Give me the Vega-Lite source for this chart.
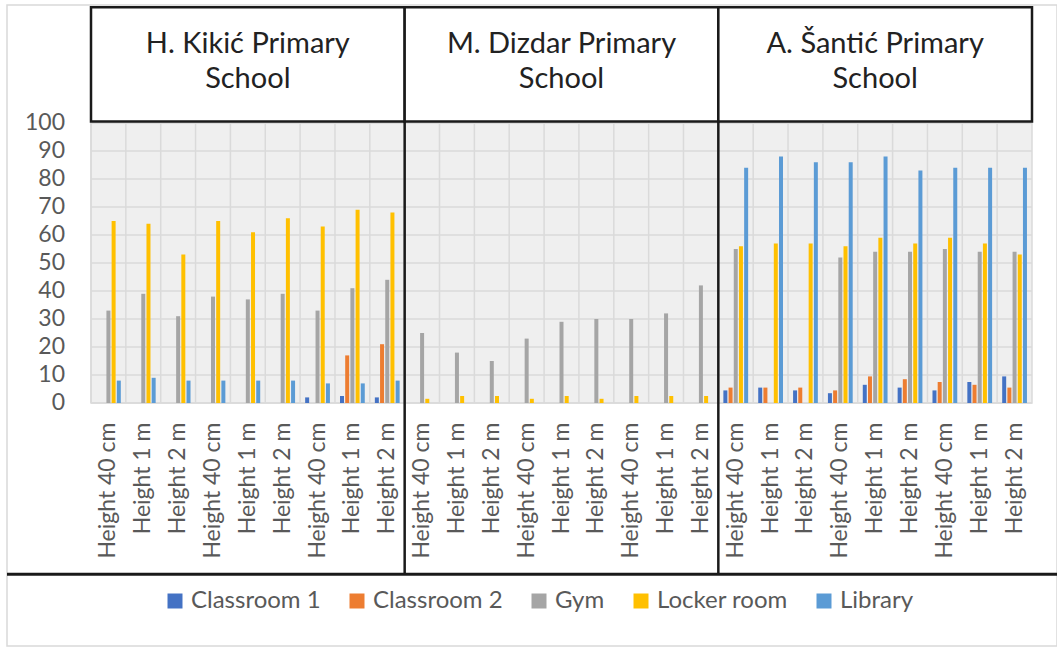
{
  "$schema": "https://vega.github.io/schema/vega-lite/v6.json",
  "width": 1050,
  "height": 396,
  "autosize": {"type": "none"},
  "padding": {"left": 7, "top": 7, "right": 0, "bottom": 244},
  "background": "white",
  "config": {"view": {"stroke": null}, "font": "Lato"},
  "datasets": {
    "main": [
      {"school": "H. Kikić Primary School", "cat": "Height 40 cm|K1", "room": "Gym", "value": 33},
      {"school": "H. Kikić Primary School", "cat": "Height 40 cm|K1", "room": "Locker room", "value": 65},
      {"school": "H. Kikić Primary School", "cat": "Height 40 cm|K1", "room": "Library", "value": 8},
      {"school": "H. Kikić Primary School", "cat": "Height 1 m|K2", "room": "Gym", "value": 39},
      {"school": "H. Kikić Primary School", "cat": "Height 1 m|K2", "room": "Locker room", "value": 64},
      {"school": "H. Kikić Primary School", "cat": "Height 1 m|K2", "room": "Library", "value": 9},
      {"school": "H. Kikić Primary School", "cat": "Height 2 m|K3", "room": "Gym", "value": 31},
      {"school": "H. Kikić Primary School", "cat": "Height 2 m|K3", "room": "Locker room", "value": 53},
      {"school": "H. Kikić Primary School", "cat": "Height 2 m|K3", "room": "Library", "value": 8},
      {"school": "H. Kikić Primary School", "cat": "Height 40 cm|K4", "room": "Gym", "value": 38},
      {"school": "H. Kikić Primary School", "cat": "Height 40 cm|K4", "room": "Locker room", "value": 65},
      {"school": "H. Kikić Primary School", "cat": "Height 40 cm|K4", "room": "Library", "value": 8},
      {"school": "H. Kikić Primary School", "cat": "Height 1 m|K5", "room": "Gym", "value": 37},
      {"school": "H. Kikić Primary School", "cat": "Height 1 m|K5", "room": "Locker room", "value": 61},
      {"school": "H. Kikić Primary School", "cat": "Height 1 m|K5", "room": "Library", "value": 8},
      {"school": "H. Kikić Primary School", "cat": "Height 2 m|K6", "room": "Gym", "value": 39},
      {"school": "H. Kikić Primary School", "cat": "Height 2 m|K6", "room": "Locker room", "value": 66},
      {"school": "H. Kikić Primary School", "cat": "Height 2 m|K6", "room": "Library", "value": 8},
      {"school": "H. Kikić Primary School", "cat": "Height 40 cm|K7", "room": "Classroom 1", "value": 2},
      {"school": "H. Kikić Primary School", "cat": "Height 40 cm|K7", "room": "Gym", "value": 33},
      {"school": "H. Kikić Primary School", "cat": "Height 40 cm|K7", "room": "Locker room", "value": 63},
      {"school": "H. Kikić Primary School", "cat": "Height 40 cm|K7", "room": "Library", "value": 7},
      {"school": "H. Kikić Primary School", "cat": "Height 1 m|K8", "room": "Classroom 1", "value": 2.5},
      {"school": "H. Kikić Primary School", "cat": "Height 1 m|K8", "room": "Classroom 2", "value": 17},
      {"school": "H. Kikić Primary School", "cat": "Height 1 m|K8", "room": "Gym", "value": 41},
      {"school": "H. Kikić Primary School", "cat": "Height 1 m|K8", "room": "Locker room", "value": 69},
      {"school": "H. Kikić Primary School", "cat": "Height 1 m|K8", "room": "Library", "value": 7},
      {"school": "H. Kikić Primary School", "cat": "Height 2 m|K9", "room": "Classroom 1", "value": 2},
      {"school": "H. Kikić Primary School", "cat": "Height 2 m|K9", "room": "Classroom 2", "value": 21},
      {"school": "H. Kikić Primary School", "cat": "Height 2 m|K9", "room": "Gym", "value": 44},
      {"school": "H. Kikić Primary School", "cat": "Height 2 m|K9", "room": "Locker room", "value": 68},
      {"school": "H. Kikić Primary School", "cat": "Height 2 m|K9", "room": "Library", "value": 8},
      {"school": "M. Dizdar Primary School", "cat": "Height 40 cm|D1", "room": "Gym", "value": 25},
      {"school": "M. Dizdar Primary School", "cat": "Height 40 cm|D1", "room": "Locker room", "value": 1.5},
      {"school": "M. Dizdar Primary School", "cat": "Height 1 m|D2", "room": "Gym", "value": 18},
      {"school": "M. Dizdar Primary School", "cat": "Height 1 m|D2", "room": "Locker room", "value": 2.5},
      {"school": "M. Dizdar Primary School", "cat": "Height 2 m|D3", "room": "Gym", "value": 15},
      {"school": "M. Dizdar Primary School", "cat": "Height 2 m|D3", "room": "Locker room", "value": 2.5},
      {"school": "M. Dizdar Primary School", "cat": "Height 40 cm|D4", "room": "Gym", "value": 23},
      {"school": "M. Dizdar Primary School", "cat": "Height 40 cm|D4", "room": "Locker room", "value": 1.5},
      {"school": "M. Dizdar Primary School", "cat": "Height 1 m|D5", "room": "Gym", "value": 29},
      {"school": "M. Dizdar Primary School", "cat": "Height 1 m|D5", "room": "Locker room", "value": 2.5},
      {"school": "M. Dizdar Primary School", "cat": "Height 2 m|D6", "room": "Gym", "value": 30},
      {"school": "M. Dizdar Primary School", "cat": "Height 2 m|D6", "room": "Locker room", "value": 1.5},
      {"school": "M. Dizdar Primary School", "cat": "Height 40 cm|D7", "room": "Gym", "value": 30},
      {"school": "M. Dizdar Primary School", "cat": "Height 40 cm|D7", "room": "Locker room", "value": 2.5},
      {"school": "M. Dizdar Primary School", "cat": "Height 1 m|D8", "room": "Gym", "value": 32},
      {"school": "M. Dizdar Primary School", "cat": "Height 1 m|D8", "room": "Locker room", "value": 2.5},
      {"school": "M. Dizdar Primary School", "cat": "Height 2 m|D9", "room": "Gym", "value": 42},
      {"school": "M. Dizdar Primary School", "cat": "Height 2 m|D9", "room": "Locker room", "value": 2.5},
      {"school": "A. Šantić Primary School", "cat": "Height 40 cm|S1", "room": "Classroom 1", "value": 4.5},
      {"school": "A. Šantić Primary School", "cat": "Height 40 cm|S1", "room": "Classroom 2", "value": 5.5},
      {"school": "A. Šantić Primary School", "cat": "Height 40 cm|S1", "room": "Gym", "value": 55},
      {"school": "A. Šantić Primary School", "cat": "Height 40 cm|S1", "room": "Locker room", "value": 56},
      {"school": "A. Šantić Primary School", "cat": "Height 40 cm|S1", "room": "Library", "value": 84},
      {"school": "A. Šantić Primary School", "cat": "Height 1 m|S2", "room": "Classroom 1", "value": 5.5},
      {"school": "A. Šantić Primary School", "cat": "Height 1 m|S2", "room": "Classroom 2", "value": 5.5},
      {"school": "A. Šantić Primary School", "cat": "Height 1 m|S2", "room": "Locker room", "value": 57},
      {"school": "A. Šantić Primary School", "cat": "Height 1 m|S2", "room": "Library", "value": 88},
      {"school": "A. Šantić Primary School", "cat": "Height 2 m|S3", "room": "Classroom 1", "value": 4.5},
      {"school": "A. Šantić Primary School", "cat": "Height 2 m|S3", "room": "Classroom 2", "value": 5.5},
      {"school": "A. Šantić Primary School", "cat": "Height 2 m|S3", "room": "Locker room", "value": 57},
      {"school": "A. Šantić Primary School", "cat": "Height 2 m|S3", "room": "Library", "value": 86},
      {"school": "A. Šantić Primary School", "cat": "Height 40 cm|S4", "room": "Classroom 1", "value": 3.5},
      {"school": "A. Šantić Primary School", "cat": "Height 40 cm|S4", "room": "Classroom 2", "value": 4.5},
      {"school": "A. Šantić Primary School", "cat": "Height 40 cm|S4", "room": "Gym", "value": 52},
      {"school": "A. Šantić Primary School", "cat": "Height 40 cm|S4", "room": "Locker room", "value": 56},
      {"school": "A. Šantić Primary School", "cat": "Height 40 cm|S4", "room": "Library", "value": 86},
      {"school": "A. Šantić Primary School", "cat": "Height 1 m|S5", "room": "Classroom 1", "value": 6.5},
      {"school": "A. Šantić Primary School", "cat": "Height 1 m|S5", "room": "Classroom 2", "value": 9.5},
      {"school": "A. Šantić Primary School", "cat": "Height 1 m|S5", "room": "Gym", "value": 54},
      {"school": "A. Šantić Primary School", "cat": "Height 1 m|S5", "room": "Locker room", "value": 59},
      {"school": "A. Šantić Primary School", "cat": "Height 1 m|S5", "room": "Library", "value": 88},
      {"school": "A. Šantić Primary School", "cat": "Height 2 m|S6", "room": "Classroom 1", "value": 5.5},
      {"school": "A. Šantić Primary School", "cat": "Height 2 m|S6", "room": "Classroom 2", "value": 8.5},
      {"school": "A. Šantić Primary School", "cat": "Height 2 m|S6", "room": "Gym", "value": 54},
      {"school": "A. Šantić Primary School", "cat": "Height 2 m|S6", "room": "Locker room", "value": 57},
      {"school": "A. Šantić Primary School", "cat": "Height 2 m|S6", "room": "Library", "value": 83},
      {"school": "A. Šantić Primary School", "cat": "Height 40 cm|S7", "room": "Classroom 1", "value": 4.5},
      {"school": "A. Šantić Primary School", "cat": "Height 40 cm|S7", "room": "Classroom 2", "value": 7.5},
      {"school": "A. Šantić Primary School", "cat": "Height 40 cm|S7", "room": "Gym", "value": 55},
      {"school": "A. Šantić Primary School", "cat": "Height 40 cm|S7", "room": "Locker room", "value": 59},
      {"school": "A. Šantić Primary School", "cat": "Height 40 cm|S7", "room": "Library", "value": 84},
      {"school": "A. Šantić Primary School", "cat": "Height 1 m|S8", "room": "Classroom 1", "value": 7.5},
      {"school": "A. Šantić Primary School", "cat": "Height 1 m|S8", "room": "Classroom 2", "value": 6.5},
      {"school": "A. Šantić Primary School", "cat": "Height 1 m|S8", "room": "Gym", "value": 54},
      {"school": "A. Šantić Primary School", "cat": "Height 1 m|S8", "room": "Locker room", "value": 57},
      {"school": "A. Šantić Primary School", "cat": "Height 1 m|S8", "room": "Library", "value": 84},
      {"school": "A. Šantić Primary School", "cat": "Height 2 m|S9", "room": "Classroom 1", "value": 9.5},
      {"school": "A. Šantić Primary School", "cat": "Height 2 m|S9", "room": "Classroom 2", "value": 5.5},
      {"school": "A. Šantić Primary School", "cat": "Height 2 m|S9", "room": "Gym", "value": 54},
      {"school": "A. Šantić Primary School", "cat": "Height 2 m|S9", "room": "Locker room", "value": 53},
      {"school": "A. Šantić Primary School", "cat": "Height 2 m|S9", "room": "Library", "value": 84}
    ],
    "schools": [
      {"school": "H. Kikić Primary School", "label": "H. Kikić Primary\nSchool", "first": "Height 40 cm|K1", "mid": "Height 1 m|K5", "last": "Height 2 m|K9"},
      {"school": "M. Dizdar Primary School", "label": "M. Dizdar Primary\nSchool", "first": "Height 40 cm|D1", "mid": "Height 1 m|D5", "last": "Height 2 m|D9"},
      {"school": "A. Šantić Primary School", "label": "A. Šantić Primary\nSchool", "first": "Height 40 cm|S1", "mid": "Height 1 m|S5", "last": "Height 2 m|S9"}
    ],
    "ticks": [{"v": 0}, {"v": 10}, {"v": 20}, {"v": 30}, {"v": 40}, {"v": 50}, {"v": 60}, {"v": 70}, {"v": 80}, {"v": 90}, {"v": 100}]
  },
  "layer": [
    {
      "data": {"values": [{"frame": 1}]},
      "mark": {"type": "rect", "fill": null, "stroke": "#d9d9d9", "strokeWidth": 1.5},
      "encoding": {
        "y": {"datum": 142.1, "type": "quantitative"},
        "y2": {"datum": -86.8}
      }
    },
    {
      "data": {"name": "schools"},
      "mark": {"type": "rect", "fill": "#efefef", "stroke": "#dadada", "strokeWidth": 1.5},
      "encoding": {
        "x": {"field": "first", "type": "nominal", "bandPosition": 0},
        "x2": {"field": "last", "bandPosition": 1},
        "y": {"datum": 0, "type": "quantitative"},
        "y2": {"datum": 100}
      }
    },
    {
      "data": {"name": "main"},
      "transform": [{"aggregate": [{"op": "count", "as": "n"}], "groupby": ["cat"]}],
      "mark": {"type": "rule", "stroke": "#dadada", "strokeWidth": 1.5},
      "encoding": {
        "x": {"field": "cat", "type": "nominal", "bandPosition": 0},
        "y": {"datum": 0, "type": "quantitative"},
        "y2": {"datum": 100}
      }
    },
    {
      "data": {"name": "ticks"},
      "mark": {"type": "rule", "stroke": "#dadada", "strokeWidth": 1.5},
      "encoding": {
        "x": {"datum": "Height 40 cm|K1", "type": "nominal", "bandPosition": 0},
        "x2": {"datum": "Height 2 m|S9", "bandPosition": 1},
        "y": {"field": "v", "type": "quantitative"}
      }
    },
    {
      "data": {"name": "ticks"},
      "mark": {"type": "text", "align": "right", "baseline": "middle", "dx": -26, "font": "Lato", "fontSize": 23, "color": "#595959"},
      "encoding": {
        "x": {"datum": "Height 40 cm|K1", "type": "nominal", "bandPosition": 0},
        "y": {"field": "v", "type": "quantitative"},
        "text": {"field": "v", "type": "quantitative"}
      }
    },
    {
      "data": {"name": "main"},
      "mark": {"type": "bar"},
      "encoding": {
        "x": {
          "field": "cat",
          "type": "nominal",
          "scale": {
            "domain": ["Height 40 cm|K1", "Height 1 m|K2", "Height 2 m|K3", "Height 40 cm|K4", "Height 1 m|K5", "Height 2 m|K6", "Height 40 cm|K7", "Height 1 m|K8", "Height 2 m|K9",
                       "Height 40 cm|D1", "Height 1 m|D2", "Height 2 m|D3", "Height 40 cm|D4", "Height 1 m|D5", "Height 2 m|D6", "Height 40 cm|D7", "Height 1 m|D8", "Height 2 m|D9",
                       "Height 40 cm|S1", "Height 1 m|S2", "Height 2 m|S3", "Height 40 cm|S4", "Height 1 m|S5", "Height 2 m|S6", "Height 40 cm|S7", "Height 1 m|S8", "Height 2 m|S9"],
            "range": [84, 1025],
            "paddingInner": 0,
            "paddingOuter": 0
          },
          "axis": {
            "title": null,
            "labelAngle": -90,
            "labelExpr": "split(datum.label, '|')[0]",
            "labelFont": "Lato",
            "labelFontSize": 23,
            "labelColor": "#595959",
            "labelPadding": 19,
            "ticks": false,
            "tickSize": 0,
            "domain": false,
            "grid": false,
            "labelOverlap": false,
            "labelBound": false
          }
        },
        "xOffset": {
          "field": "room",
          "type": "nominal",
          "scale": {"domain": ["Classroom 1", "Classroom 2", "Gym", "Locker room", "Library"], "paddingInner": 0.23, "paddingOuter": 0.97}
        },
        "y": {
          "field": "value",
          "type": "quantitative",
          "scale": {"domain": [0, 141.43], "nice": false, "zero": false},
          "axis": {
            "title": null,
            "labels": false,
            "domain": false,
            "ticks": false,
            "tickSize": 0,
            "grid": false
          }
        },
        "color": {
          "field": "room",
          "type": "nominal",
          "scale": {"domain": ["Classroom 1", "Classroom 2", "Gym", "Locker room", "Library"], "range": ["#4472C4", "#ED7D31", "#A5A5A5", "#FFC000", "#5B9BD5"]},
          "legend": {
            "orient": "none",
            "legendX": 156,
            "legendY": 582,
            "direction": "horizontal",
            "title": null,
            "symbolType": "square",
            "symbolSize": 225,
            "symbolStrokeWidth": 0,
            "labelFont": "Lato",
            "labelFontSize": 24,
            "labelColor": "#595959",
            "labelOffset": 4,
            "columnPadding": 24,
            "padding": 0
          }
        }
      }
    },
    {
      "data": {"name": "schools"},
      "mark": {"type": "rect", "fill": "white", "stroke": "#1a1a1a", "strokeWidth": 2.5},
      "encoding": {
        "x": {"field": "first", "type": "nominal", "bandPosition": 0},
        "x2": {"field": "last", "bandPosition": 1},
        "y": {"datum": 141.3, "type": "quantitative"},
        "y2": {"datum": 100.54}
      }
    },
    {
      "data": {"name": "schools"},
      "mark": {"type": "text", "lineBreak": "\n", "lineHeight": 35, "fontSize": 29, "font": "Lato", "align": "center", "baseline": "alphabetic", "color": "#222222"},
      "encoding": {
        "x": {"field": "mid", "type": "nominal", "bandPosition": 0.5},
        "y": {"datum": 124.9, "type": "quantitative"},
        "text": {"field": "label"}
      }
    },
    {
      "data": {"name": "schools"},
      "transform": [{"filter": "datum.school != 'H. Kikić Primary School'"}],
      "mark": {"type": "rule", "stroke": "#1a1a1a", "strokeWidth": 2.5},
      "encoding": {
        "x": {"field": "first", "type": "nominal", "bandPosition": 0},
        "y": {"datum": -61.2, "type": "quantitative"},
        "y2": {"datum": 100.54}
      }
    },
    {
      "data": {"values": [{"line": 1}]},
      "mark": {"type": "rule", "stroke": "#1a1a1a", "strokeWidth": 3},
      "encoding": {
        "y": {"datum": -61.2, "type": "quantitative"}
      }
    }
  ]
}
